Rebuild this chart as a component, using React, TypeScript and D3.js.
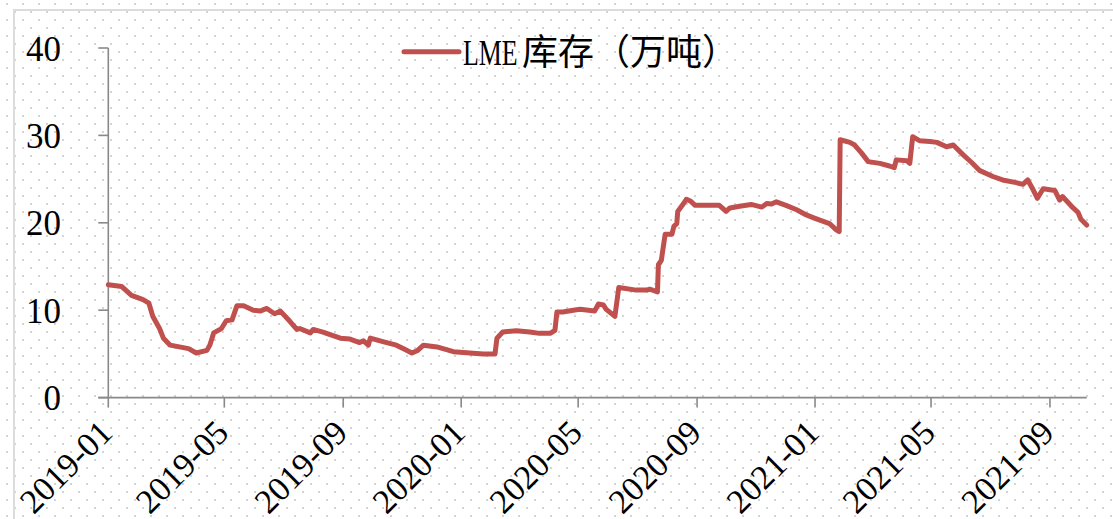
import React from 'react';
import * as d3 from 'd3';

const dates = [
  '2019-01-01', '2019-01-15', '2019-01-25', '2019-02-06', '2019-02-12', '2019-02-16', '2019-02-23', '2019-02-27',
  '2019-03-06', '2019-03-25', '2019-04-02', '2019-04-13', '2019-04-16', '2019-04-20', '2019-04-28', '2019-05-03',
  '2019-05-09', '2019-05-14', '2019-05-21', '2019-05-31', '2019-06-07', '2019-06-14', '2019-06-22', '2019-06-28',
  '2019-07-08', '2019-07-15', '2019-07-18', '2019-07-29', '2019-08-01', '2019-08-11', '2019-08-29', '2019-09-08',
  '2019-09-18', '2019-09-22', '2019-09-27', '2019-09-29', '2019-10-12', '2019-10-26', '2019-11-04', '2019-11-11',
  '2019-11-17', '2019-11-23', '2019-12-07', '2019-12-24', '2020-01-10', '2020-01-24', '2020-02-05', '2020-02-07',
  '2020-02-13', '2020-02-27', '2020-03-12', '2020-03-22', '2020-04-02', '2020-04-07', '2020-04-09', '2020-04-15',
  '2020-04-26', '2020-05-03', '2020-05-18', '2020-05-22', '2020-05-27', '2020-05-30', '2020-06-08', '2020-06-12',
  '2020-06-30', '2020-07-11', '2020-07-14', '2020-07-22', '2020-07-23', '2020-07-26', '2020-07-30', '2020-08-06',
  '2020-08-08', '2020-08-11', '2020-08-12', '2020-08-18', '2020-08-21', '2020-08-25', '2020-08-30', '2020-09-24',
  '2020-10-01', '2020-10-05', '2020-10-15', '2020-10-27', '2020-11-07', '2020-11-12', '2020-11-17', '2020-11-22',
  '2020-12-02', '2020-12-13', '2020-12-23', '2020-12-30', '2021-01-06', '2021-01-16', '2021-01-23', '2021-01-26',
  '2021-01-27', '2021-02-06', '2021-02-11', '2021-02-18', '2021-02-25', '2021-03-09', '2021-03-19', '2021-03-24',
  '2021-03-26', '2021-04-06', '2021-04-09', '2021-04-12', '2021-04-19', '2021-04-30', '2021-05-07', '2021-05-17',
  '2021-05-24', '2021-06-03', '2021-06-12', '2021-06-20', '2021-07-04', '2021-07-14', '2021-07-28', '2021-08-04',
  '2021-08-09', '2021-08-14', '2021-08-19', '2021-08-25', '2021-09-06', '2021-09-11', '2021-09-14', '2021-09-25',
  '2021-09-30', '2021-10-03', '2021-10-09',
];

const stock = [
  12.9, 12.7, 11.7, 11.2, 10.8, 9.3, 7.9, 6.8,
  6.0, 5.6, 5.1, 5.4, 6.0, 7.4, 7.9, 8.8,
  8.9, 10.5, 10.5, 10.0, 9.9, 10.2, 9.6, 9.9,
  8.7, 7.8, 7.9, 7.4, 7.8, 7.5, 6.8, 6.7,
  6.3, 6.5, 6.0, 6.8, 6.4, 6.0, 5.5, 5.1,
  5.4, 6.0, 5.8, 5.25, 5.1, 5.0, 5.0, 6.8,
  7.5, 7.65, 7.5, 7.35, 7.35, 7.7, 9.8, 9.8,
  10.0, 10.1, 9.9, 10.7, 10.6, 10.1, 9.3, 12.6,
  12.3, 12.3, 12.4, 12.1, 15.2, 15.7, 18.7, 18.7,
  19.6, 19.9, 21.3, 22.2, 22.7, 22.5, 22.0, 22.0,
  21.3, 21.7, 21.9, 22.1, 21.8, 22.2, 22.15, 22.4,
  22.0, 21.5, 20.9, 20.6, 20.3, 19.9, 19.2, 19.0,
  29.5, 29.2, 28.9, 28.0, 27.0, 26.8, 26.5, 26.3,
  27.2, 27.1, 26.8, 29.85, 29.4, 29.3, 29.2, 28.7,
  28.9, 27.8, 26.9, 26.0, 25.3, 24.9, 24.6, 24.4,
  24.9, 23.9, 22.8, 23.9, 23.7, 22.6, 23.0, 21.7,
  21.2, 20.4, 19.75,
];

const yTicks = [0, 10, 20, 30, 40];
const seriesName = 'LME库存（万吨）';

const W = 1113;
const H = 519;
const left = 108.3;
const right = 1086.7;
const top = 48;
const bottom = 397.6;

const parse = d3.timeParse('%Y-%m-%d');

export default function App() {
  const pts = dates.map((d, i) => ({ date: parse(d) as Date, v: stock[i] }));

  const x = d3.scaleTime()
    .domain(d3.extent(pts, d => d.date) as [Date, Date])
    .range([left, right]);
  const y = d3.scaleLinear().domain([0, 40]).range([bottom, top]);

  const line = d3.line<{ date: Date; v: number }>()
    .x(d => x(d.date))
    .y(d => y(d.v));

  const xTicks = x.ticks(d3.timeMonth.every(4) as d3.TimeInterval);
  const fmt = d3.timeFormat('%Y-%m');

  const serif = '"Liberation Serif", "Times New Roman", serif';
  const cjk = '"Noto Sans CJK SC", sans-serif';

  return (
    <svg width={W} height={H} style={{ position: 'absolute', left: 0, top: 0 }}>
      <defs>
        <pattern id="dots" patternUnits="userSpaceOnUse" width={16} height={16}>
          <rect x={14} y={11} width={2} height={2} fill="#d4d4d4" />
          <rect x={6} y={3} width={2} height={2} fill="#d4d4d4" />
        </pattern>
      </defs>
      <rect width={W} height={H} fill="#fff" />
      <rect width={W} height={H} fill="url(#dots)" />
      <rect x={14} y={10} width={W + 20} height={H + 20} fill="none" stroke="#dcdcdc" strokeWidth={2} />

      {/* y axis */}
      <line x1={left} x2={left} y1={top} y2={bottom} stroke="#898989" strokeWidth={1.6} />
      {yTicks.map(t => (
        <g key={t}>
          <line x1={left - 10} x2={left} y1={y(t)} y2={y(t)} stroke="#898989" strokeWidth={1.6} />
          <text x={61} y={y(t)} dy="0.36em" textAnchor="end" fontFamily={serif} fontSize={35} fill="#000">
            {t}
          </text>
        </g>
      ))}

      {/* x axis */}
      <line x1={left - 10} x2={right} y1={bottom} y2={bottom} stroke="#898989" strokeWidth={1.6} />
      {xTicks.map(t => (
        <g key={t.getTime()}>
          <line x1={x(t)} x2={x(t)} y1={bottom} y2={bottom + 10} stroke="#898989" strokeWidth={1.6} />
          <text
            transform={`translate(${x(t) + 6},${bottom + 37}) rotate(-45)`}
            textAnchor="end"
            fontFamily={serif}
            fontSize={34}
            textLength={114}
            lengthAdjust="spacingAndGlyphs"
            fill="#000"
          >
            {fmt(t)}
          </text>
        </g>
      ))}

      {/* series */}
      <path d={line(pts) || ''} fill="none" stroke="#C0504D" strokeWidth={5} strokeLinejoin="round" strokeLinecap="round" />

      {/* legend */}
      <line x1={404} x2={459} y1={51.7} y2={51.7} stroke="#C0504D" strokeWidth={5} strokeLinecap="round" />
      <text transform="translate(463,65) scale(0.74,1)" fontFamily={serif} fontSize={35} fill="#000">
        {seriesName.slice(0, 3)}
      </text>
      <text x={522} y={65} fontFamily={cjk} fontSize={36} fill="#000">
        {seriesName.slice(3)}
      </text>
    </svg>
  );
}
